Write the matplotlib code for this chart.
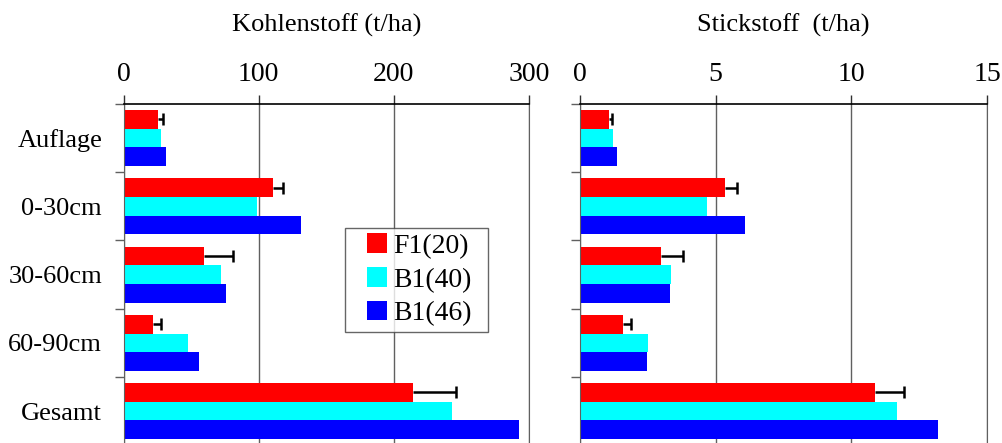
import numpy as np
import matplotlib
matplotlib.use("Agg")
import matplotlib.pyplot as plt
from matplotlib.patches import Rectangle
from matplotlib.container import BarContainer
from matplotlib.legend_handler import HandlerPatch

plt.rcParams['font.family'] = ['Liberation Serif', 'DejaVu Serif']

categories = ['Auflage', '0-30cm', '30-60cm', '60-90cm', 'Gesamt']
series = ['F1(20)', 'B1(40)', 'B1(46)']
colors = ['#ff0000', '#00ffff', '#0000ff']

# Kohlenstoff (t/ha)
c_f1 = [25.2, 110.8, 59.3, 21.5, 214.5]
c_b40 = [27.9, 99.0, 71.8, 47.4, 243.0]
c_b46 = [31.3, 131.3, 76.0, 55.5, 292.8]
c_f1_err = [4.1, 7.0, 21.9, 6.1, 31.7]

# Stickstoff (t/ha)
n_f1 = [1.07, 5.33, 2.97, 1.58, 10.87]
n_b40 = [1.20, 4.68, 3.34, 2.50, 11.66]
n_b46 = [1.36, 6.09, 3.33, 2.48, 13.17]
n_f1_err = [0.11, 0.47, 0.82, 0.30, 1.05]

c_ticks = [0, 100, 200, 300]
n_ticks = [0, 5, 10, 15]

GRAY = '#606060'
bar_h = 0.274


def square_patch(legend, orig_handle, xdescent, ydescent, width, height, fontsize):
    # square drawn at the right end of the handle box
    return Rectangle((width - height - xdescent, -ydescent), height, height)


def first_child(tgt, src):
    tgt.update_from(src.patches[0])


def draw_panel(ax, values, err, ticks, title, show_labels):
    y = np.arange(len(categories))
    for i, (vals, col) in enumerate(zip(values, colors)):
        ax.barh(y + (i - 1) * bar_h, vals, height=bar_h, color=col,
                edgecolor='none', label=series[i], zorder=2)
    # one-sided error bars, cap only at the outer end
    x0 = np.array(values[0])
    x1 = x0 + np.array(err)
    ax.hlines(y - bar_h, x0, x1, color='black', linewidth=1.8, zorder=3)
    ax.plot(x1, y - bar_h, linestyle='none', marker='|', markersize=9,
            markeredgewidth=1.8, color='black', zorder=3)

    ax.set_xlim(ticks[0], ticks[-1])
    ax.set_ylim(len(categories) - 0.5, -0.5)
    ax.xaxis.tick_top()
    ax.set_xticks(ticks)
    ax.tick_params(axis='x', direction='out', length=6.5, width=1,
                   color='#303030', labelsize=20, pad=5.5)
    ax.grid(axis='x', color=GRAY, linewidth=1, zorder=0)

    ax.set_yticks(y)
    ax.set_yticks(np.arange(-0.5, len(categories), 1.0), minor=True)
    ax.tick_params(axis='y', which='major', length=0, labelsize=19, pad=15.5)
    ax.tick_params(axis='y', which='minor', length=6.3, width=1, color=GRAY)
    if show_labels:
        ax.set_yticklabels(categories)
    else:
        ax.set_yticklabels([])

    ax.spines['top'].set_color('black')
    ax.spines['top'].set_linewidth(1.2)
    ax.spines['left'].set_color(GRAY)
    ax.spines['right'].set_color(GRAY)
    ax.spines['bottom'].set_visible(False)
    ax.text(0.5, 1.212, title, transform=ax.transAxes, ha='center',
            va='baseline', fontsize=19)


fig = plt.figure(figsize=(10.02, 4.43), dpi=100)
ax1 = fig.add_axes([0.1234, -0.005, 0.4043, 0.7702])
ax2 = fig.add_axes([0.5788, -0.005, 0.4065, 0.7702])

draw_panel(ax1, [c_f1, c_b40, c_b46], c_f1_err, c_ticks, 'Kohlenstoff (t/ha)', True)
draw_panel(ax2, [n_f1, n_b40, n_b46], n_f1_err, n_ticks, 'Stickstoff  (t/ha)', False)

leg = ax1.legend(loc='upper left', bbox_to_anchor=(0.546, 0.347, 0.354, 0.29),
                 mode='expand', borderaxespad=0, fontsize=20, frameon=True,
                 fancybox=False, borderpad=0.2, labelspacing=0.3,
                 handlelength=1.3, handleheight=0.7, handletextpad=0.25,
                 handler_map={BarContainer: HandlerPatch(patch_func=square_patch,
                                                         update_func=first_child)})
leg.get_frame().set_edgecolor('#404040')
leg.get_frame().set_linewidth(1)
leg.set_zorder(5)

fig.savefig('out.png', dpi=100)
